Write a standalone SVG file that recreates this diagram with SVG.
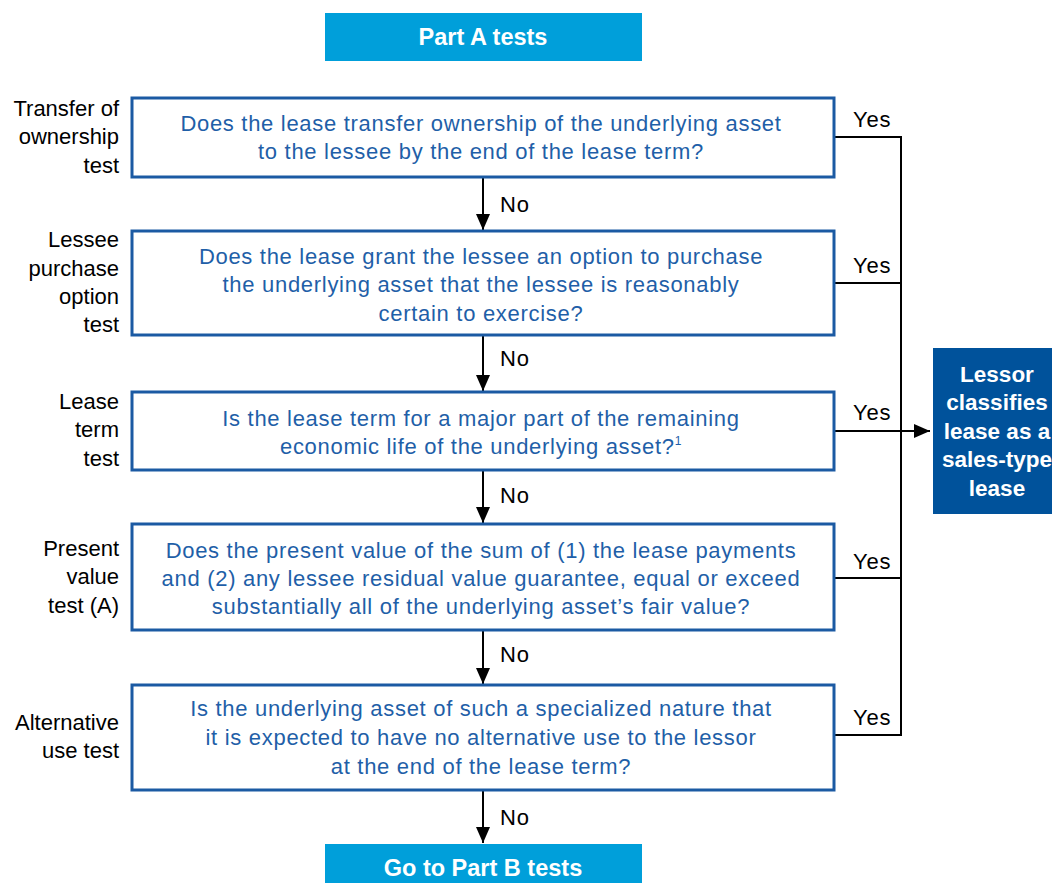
<svg xmlns="http://www.w3.org/2000/svg" width="1052" height="883" viewBox="0 0 1052 883">
  <style>
    .q { fill: #fff; stroke: #1b5aa3; stroke-width: 3; }
    .qt { font-family: "Liberation Sans", Arial, sans-serif; font-size: 22px; letter-spacing: 0.7px; fill: #1f5fa8; text-anchor: middle; }
    .lbl { font-family: "Liberation Sans", Arial, sans-serif; font-size: 22px; fill: #000; text-anchor: end; }
    .yn { font-family: "Liberation Sans", Arial, sans-serif; font-size: 22px; letter-spacing: 0.8px; fill: #000; }
    .head { fill: #009fda; }
    .ht { font-family: "Liberation Sans", Arial, sans-serif; font-size: 23.5px; font-weight: bold; fill: #fff; text-anchor: middle; }
    .res { fill: #00529b; }
    .rt { font-family: "Liberation Sans", Arial, sans-serif; font-size: 22.5px; font-weight: bold; fill: #fff; text-anchor: middle; }
    .ln { stroke: #000; stroke-width: 2; fill: none; }
  </style>
  <defs>
    <marker id="ah" viewBox="0 0 16 14" refX="16" refY="7" markerWidth="16" markerHeight="14" orient="auto" markerUnits="userSpaceOnUse">
      <path d="M0,0 L16,7 L0,14 Z" fill="#000"/>
    </marker>
  </defs>

  <!-- connectors: "No" flow down the centre, "Yes" branches join the right-hand bus -->
  <g id="connectors">
    <line class="ln" x1="483" y1="178" x2="483" y2="230" marker-end="url(#ah)"/>
    <line class="ln" x1="483" y1="336" x2="483" y2="391" marker-end="url(#ah)"/>
    <line class="ln" x1="483" y1="471" x2="483" y2="523" marker-end="url(#ah)"/>
    <line class="ln" x1="483" y1="631" x2="483" y2="684" marker-end="url(#ah)"/>
    <line class="ln" x1="483" y1="791" x2="483" y2="843" marker-end="url(#ah)"/>
    <text class="yn" x="500" y="212">No</text>
    <text class="yn" x="500" y="366">No</text>
    <text class="yn" x="500" y="503">No</text>
    <text class="yn" x="500" y="662">No</text>
    <text class="yn" x="500" y="825">No</text>

    <polyline class="ln" points="835,137 901,137 901,735 835,735"/>
    <line class="ln" x1="835" y1="283" x2="901" y2="283"/>
    <line class="ln" x1="835" y1="578" x2="901" y2="578"/>
    <line class="ln" x1="835" y1="431" x2="930" y2="431" marker-end="url(#ah)"/>
    <text class="yn" x="853" y="127">Yes</text>
    <text class="yn" x="853" y="273">Yes</text>
    <text class="yn" x="853" y="420">Yes</text>
    <text class="yn" x="853" y="569">Yes</text>
    <text class="yn" x="853" y="725">Yes</text>
  </g>

  <g id="part-a">
    <rect class="head" x="325" y="13" width="317" height="48"/>
    <text class="ht" x="483" y="45">Part A tests</text>
  </g>

  <g id="transfer-of-ownership">
    <text class="lbl" x="119" y="116">Transfer of</text>
    <text class="lbl" x="119" y="144">ownership</text>
    <text class="lbl" x="119" y="173">test</text>
    <rect class="q" x="132" y="98" width="702" height="79"/>
    <text class="qt" x="481" y="131">Does the lease transfer ownership of the underlying asset</text>
    <text class="qt" x="481" y="159">to the lessee by the end of the lease term?</text>
  </g>

  <g id="purchase-option">
    <text class="lbl" x="119" y="247">Lessee</text>
    <text class="lbl" x="119" y="276">purchase</text>
    <text class="lbl" x="119" y="304">option</text>
    <text class="lbl" x="119" y="332">test</text>
    <rect class="q" x="132" y="231" width="702" height="104"/>
    <text class="qt" x="481" y="264">Does the lease grant the lessee an option to purchase</text>
    <text class="qt" x="481" y="292">the underlying asset that the lessee is reasonably</text>
    <text class="qt" x="481" y="321">certain to exercise?</text>
  </g>

  <g id="lease-term">
    <text class="lbl" x="119" y="409">Lease</text>
    <text class="lbl" x="119" y="437">term</text>
    <text class="lbl" x="119" y="466">test</text>
    <rect class="q" x="132" y="392" width="702" height="78"/>
    <text class="qt" x="481" y="426">Is the lease term for a major part of the remaining</text>
    <text class="qt" x="481" y="454">economic life of the underlying asset?<tspan font-size="12" dy="-9">1</tspan></text>
  </g>

  <g id="present-value">
    <text class="lbl" x="119" y="556">Present</text>
    <text class="lbl" x="119" y="584">value</text>
    <text class="lbl" x="119" y="613">test (A)</text>
    <rect class="q" x="132" y="524" width="702" height="106"/>
    <text class="qt" x="481" y="558">Does the present value of the sum of (1) the lease payments</text>
    <text class="qt" x="481" y="586">and (2) any lessee residual value guarantee, equal or exceed</text>
    <text class="qt" x="481" y="614">substantially all of the underlying asset’s fair value?</text>
  </g>

  <g id="alternative-use">
    <text class="lbl" x="119" y="730">Alternative</text>
    <text class="lbl" x="119" y="758">use test</text>
    <rect class="q" x="132" y="685" width="702" height="105"/>
    <text class="qt" x="481" y="716">Is the underlying asset of such a specialized nature that</text>
    <text class="qt" x="481" y="745">it is expected to have no alternative use to the lessor</text>
    <text class="qt" x="481" y="774">at the end of the lease term?</text>
  </g>

  <g id="sales-type">
    <rect class="res" x="933" y="348" width="130" height="166"/>
    <text class="rt" x="997" y="382">Lessor</text>
    <text class="rt" x="997" y="410">classifies</text>
    <text class="rt" x="997" y="439">lease as a</text>
    <text class="rt" x="997" y="467">sales-type</text>
    <text class="rt" x="997" y="496">lease</text>
  </g>

  <g id="part-b">
    <rect class="head" x="325" y="844" width="317" height="45"/>
    <text class="ht" x="483" y="876">Go to Part B tests</text>
  </g>
</svg>
